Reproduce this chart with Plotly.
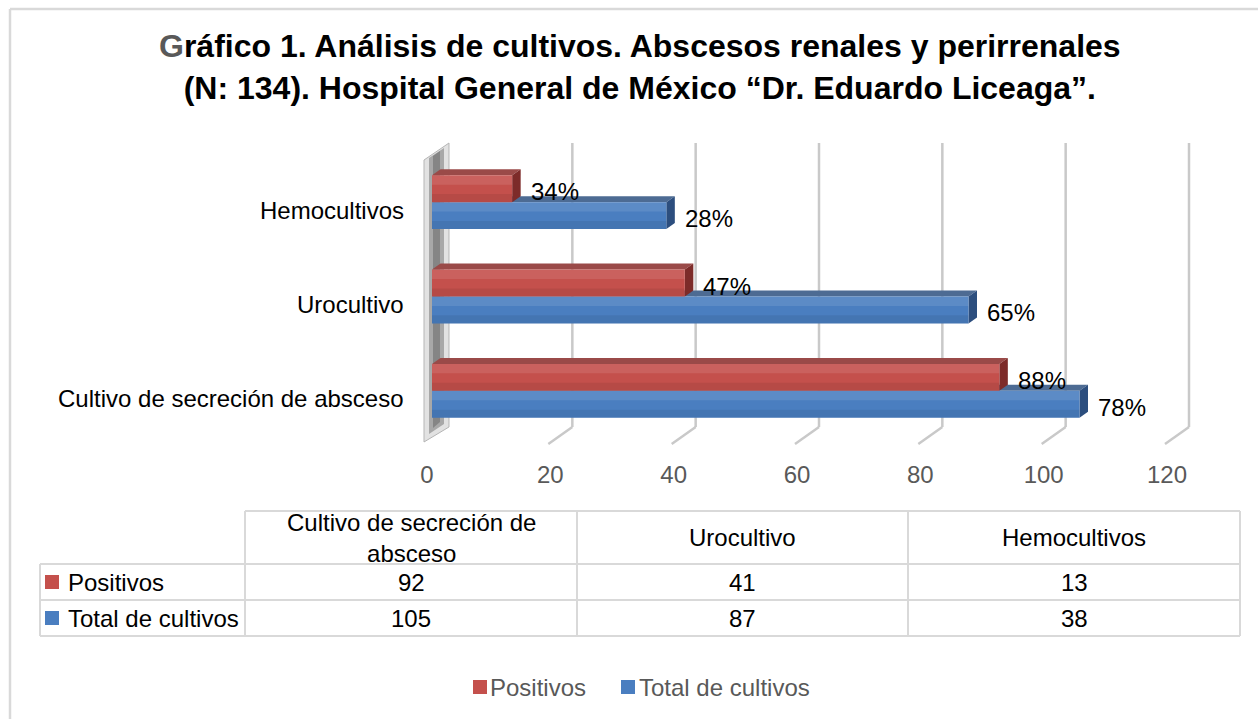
import textwrap
import plotly.graph_objects as go

# ---------------- data ----------------
categories = ["Cultivo de secreción de absceso", "Urocultivo", "Hemocultivos"]
series_names = ["Positivos", "Total de cultivos"]
positivos = [92, 41, 13]
total_cultivos = [105, 87, 38]
pct_positivos = ["88%", "47%", "34%"]
pct_total = ["78%", "65%", "28%"]
x_ticks = [0, 20, 40, 60, 80, 100, 120]
title_lines = [
    "Gráfico 1. Análisis de cultivos. Abscesos renales y perirrenales",
    "(N: 134). Hospital General de México “Dr. Eduardo Liceaga”.",
]

# ---------------- styling / geometry ----------------
FONT = "Liberation Sans, Arial, sans-serif"
RED, BLUE = "#c4504c", "#4a7ec0"
RED_TOP, BLUE_TOP = "#9a4a48", "#4d6b93"
RED_SIDE, BLUE_SIDE = "#7d2b29", "#2c4e7e"
GRID = "#c9c9c9"
BORDER = "#d9d9d9"
GRAY_TXT = "#595959"
FS = 24

W, H = 1258, 719
ML, MR, MT, MB = 432, 86, 155, 281
PW, PH = W - ML - MR, H - MT - MB
XMAX = x_ticks[-1]
YR = (-0.5, len(categories) - 0.5)
BW = 0.2857          # bar thickness in category units
DX, DY = 8.5, 6.0    # 3-D depth of bars (pixels)


def xp(px):
    return (px - ML) / PW


def yp(py):
    return (H - MB - py) / PH


def x2px(v):
    return ML + v / XMAX * PW


def y2px(v):
    return MT + (YR[1] - v) / (YR[1] - YR[0]) * PH


def poly(points, fill, line=None, layer="below", width=0):
    d = "M " + " L ".join(f"{xp(x):.5f},{yp(y):.5f}" for x, y in points) + " Z"
    return dict(type="path", path=d, xref="paper", yref="paper", fillcolor=fill,
                line=dict(color=line or fill, width=width), layer=layer)


def seg(x0, y0, x1, y1, color, width=2, layer="above"):
    return dict(type="line", xref="paper", yref="paper", x0=xp(x0), y0=yp(y0),
                x1=xp(x1), y1=yp(y1), line=dict(color=color, width=width), layer=layer)


ypos = list(range(len(categories)))
shapes, annotations = [], []

# ---------------- back wall gridlines (3-D look) ----------------
BACK = 17
for t in x_ticks[1:]:
    fx = x2px(t)
    shapes.append(seg(fx + BACK, 143, fx + BACK, 427, GRID, 2.5, "below"))
    shapes.append(seg(fx + BACK, 427, fx - 7, 444, GRID, 2.5, "below"))

# left side wall
shapes.append(poly([(424, 160), (449, 143), (449, 427), (424, 442)], "#e2e2e2", "#b5b5b5", "below", 1))
shapes.append(poly([(429, 158), (444, 148), (444, 424), (429, 434)], "rgba(120,120,120,0.55)", None, "below", 0))
shapes.append(poly([(433, 156), (440, 151), (440, 422), (433, 428)], "rgba(90,90,90,0.45)", None, "below", 0))

# ---------------- bars (front faces via traces) ----------------
fig = go.Figure()
fig.add_trace(go.Bar(y=ypos, x=total_cultivos, orientation="h", name=series_names[1],
                     marker=dict(color=BLUE, line=dict(width=0)), width=BW, offset=-BW,
                     showlegend=False, hoverinfo="x"))
fig.add_trace(go.Bar(y=ypos, x=positivos, orientation="h", name=series_names[0],
                     marker=dict(color=RED, line=dict(width=0)), width=BW, offset=0,
                     showlegend=False, hoverinfo="x"))

# 3-D faces, soft shading on front faces, and labels
for vals, off, top_c, side_c, labels in [
    (total_cultivos, -BW, BLUE_TOP, BLUE_SIDE, pct_total),
    (positivos, 0.0, RED_TOP, RED_SIDE, pct_positivos),
]:
    for i, v in enumerate(vals):
        x0, x1 = x2px(0), x2px(v)
        top, bot = y2px(i + off + BW), y2px(i + off)
        hgt = bot - top
        shapes.append(poly([(x0, top), (x1, top), (x1 + DX, top - DY), (x0 + DX, top - DY)], top_c))
        shapes.append(poly([(x1, bot), (x1, top), (x1 + DX, top - DY), (x1 + DX, bot - DY)], side_c))
        shapes.append(poly([(x0, top), (x1, top), (x1, top + hgt * 0.35), (x0, top + hgt * 0.35)],
                           "rgba(255,255,255,0.10)", None, "above"))
        shapes.append(poly([(x0, bot - hgt * 0.3), (x1, bot - hgt * 0.3), (x1, bot), (x0, bot)],
                           "rgba(0,0,0,0.07)", None, "above"))
        annotations.append(dict(x=v, y=i + off + BW / 2, xref="x", yref="y", text=labels[i],
                                showarrow=False, xanchor="left", yanchor="middle",
                                xshift=DX + 8, yshift=-3,
                                font=dict(family=FONT, size=FS, color="#000000")))

# ---------------- category labels ----------------
for i, c in enumerate(categories):
    annotations.append(dict(x=xp(406), y=i, xref="paper", yref="y", text=c, showarrow=False,
                            xanchor="right", yanchor="middle", yshift=-8,
                            font=dict(family=FONT, size=FS, color="#000000")))

# ---------------- title ----------------
t1 = f"<span style='color:{GRAY_TXT}'>{title_lines[0][0]}</span>{title_lines[0][1:]}"
annotations.append(dict(x=xp(640), y=yp(67), xref="paper", yref="paper",
                        text=f"<b>{t1}<br>{title_lines[1]}</b>", showarrow=False,
                        xanchor="center", yanchor="middle", align="center",
                        font=dict(family=FONT, size=32, color="#000000")))

# ---------------- data table ----------------
col_edges = [245, 577, 908, 1240]
row_edges = [511, 564, 600, 636]
LEFT = 40
shapes.append(seg(col_edges[0], row_edges[0], col_edges[-1], row_edges[0], BORDER, 2))
for ry in row_edges[1:]:
    shapes.append(seg(LEFT, ry, col_edges[-1], ry, BORDER, 2))
shapes.append(seg(LEFT, row_edges[1], LEFT, row_edges[-1], BORDER, 2))
for cx in col_edges:
    shapes.append(seg(cx, row_edges[0], cx, row_edges[-1], BORDER, 2))

# header (column names = categories)
for j, c in enumerate(categories):
    cx = (col_edges[j] + col_edges[j + 1]) / 2
    hc = (row_edges[0] + row_edges[1]) / 2
    annotations.append(dict(x=xp(cx), y=yp(hc), xref="paper", yref="paper",
                            text="<br>".join(textwrap.wrap(c, 23)), align="center",
                            showarrow=False, xanchor="center", yanchor="middle",
                            font=dict(family=FONT, size=FS, color="#000000")))

for r, (name, vals, colr) in enumerate([(series_names[0], positivos, RED),
                                         (series_names[1], total_cultivos, BLUE)]):
    ry = (row_edges[r + 1] + row_edges[r + 2]) / 2
    shapes.append(dict(type="rect", xref="paper", yref="paper", x0=xp(45), x1=xp(59),
                       y0=yp(ry - 7), y1=yp(ry + 7), fillcolor=colr,
                       line=dict(color=colr, width=0), layer="above"))
    annotations.append(dict(x=xp(66), y=yp(ry), xref="paper", yref="paper", text=name,
                            showarrow=False, xanchor="left", yanchor="middle",
                            font=dict(family=FONT, size=FS, color="#000000")))
    for j, v in enumerate(vals):
        cx = (col_edges[j] + col_edges[j + 1]) / 2
        annotations.append(dict(x=xp(cx), y=yp(ry), xref="paper", yref="paper", text=str(v),
                                showarrow=False, xanchor="center", yanchor="middle",
                                font=dict(family=FONT, size=FS, color="#000000")))

# ---------------- legend (bottom) ----------------
LEG_Y = 687
for sx, tx, name, colr in [(473, 488, series_names[0], RED), (621, 637, series_names[1], BLUE)]:
    shapes.append(dict(type="rect", xref="paper", yref="paper", x0=xp(sx), x1=xp(sx + 14),
                       y0=yp(LEG_Y - 7), y1=yp(LEG_Y + 7), fillcolor=colr,
                       line=dict(color=colr, width=0), layer="above"))
    annotations.append(dict(x=xp(tx), y=yp(LEG_Y), xref="paper", yref="paper", text=name,
                            showarrow=False, xanchor="left", yanchor="middle",
                            font=dict(family=FONT, size=FS, color=GRAY_TXT)))

# ---------------- outer chart border ----------------
shapes.append(seg(10, 9, W + 5, 9, BORDER, 2.5))
shapes.append(seg(10, 9, 10, H + 5, BORDER, 2.5))

fig.update_layout(
    width=W, height=H,
    margin=dict(l=ML, r=MR, t=MT, b=MB, pad=0),
    paper_bgcolor="white", plot_bgcolor="rgba(0,0,0,0)",
    barmode="overlay",
    font=dict(family=FONT, size=FS, color="#000000"),
    xaxis=dict(range=[0, XMAX], tickvals=x_ticks, showgrid=False, zeroline=False,
               showline=False, ticks="", tickfont=dict(family=FONT, size=FS, color=GRAY_TXT),
               ticklabelstandoff=20, ticklabelshift=-5, fixedrange=True),
    yaxis=dict(range=list(YR), showticklabels=False, showgrid=False, zeroline=False,
               showline=False, ticks="", fixedrange=True),
    shapes=shapes,
    annotations=annotations,
    showlegend=False,
)

fig.write_html("out.html", config={"displayModeBar": False},
               post_script="document.body.style.margin='0';document.body.style.overflow='hidden';")
